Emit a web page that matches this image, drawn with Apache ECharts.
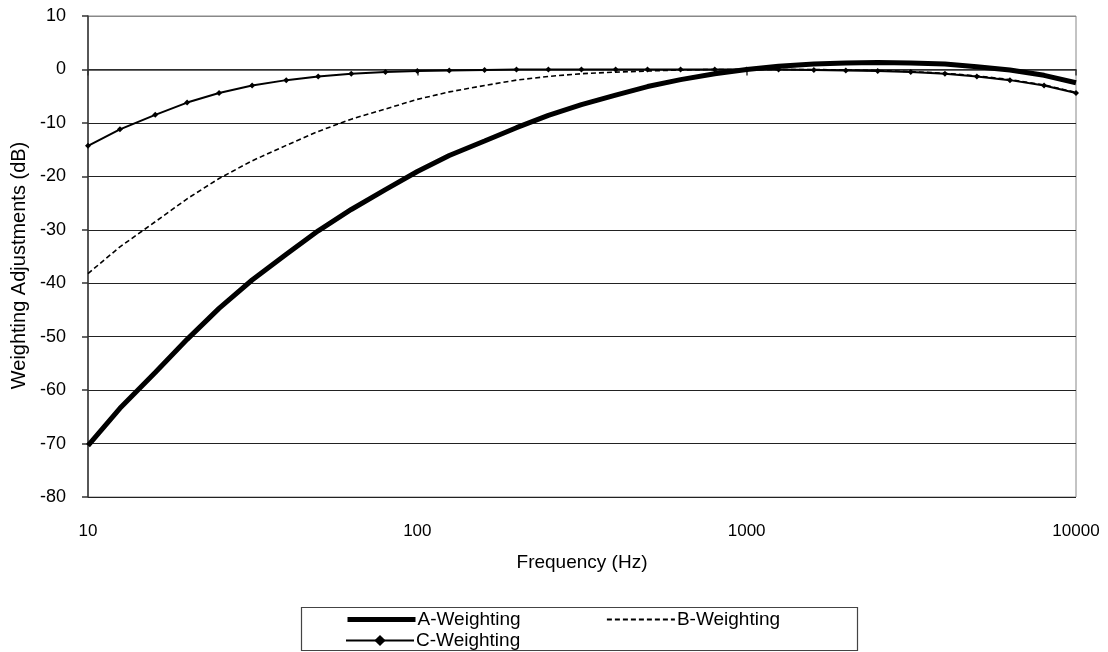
<!DOCTYPE html>
<html>
<head>
<meta charset="utf-8">
<script src="https://cdn.jsdelivr.net/npm/echarts@6/dist/echarts.min.js"></script>
<style>
  html, body { margin: 0; padding: 0; background: #fff; }
  #main { width: 1108px; height: 652px; }
</style>
</head>
<body>
<div id="main"></div>
<script>
// 1/3 octave band centre frequencies (Hz)
const freqs = [10, 12.5, 16, 20, 25, 31.5, 40, 50, 63, 80, 100, 125, 160, 200, 250, 315, 400, 500,
  630, 800, 1000, 1250, 1600, 2000, 2500, 3150, 4000, 5000, 6300, 8000, 10000];
const aWeight = [-70.4, -63.4, -56.7, -50.5, -44.7, -39.4, -34.6, -30.2, -26.2, -22.5, -19.1, -16.1,
  -13.4, -10.9, -8.6, -6.6, -4.8, -3.2, -1.9, -0.8, 0, 0.6, 1.0, 1.2, 1.3, 1.2, 1.0, 0.5, -0.1, -1.1, -2.5];
const bWeight = [-38.2, -33.2, -28.5, -24.2, -20.4, -17.1, -14.2, -11.6, -9.3, -7.4, -5.6, -4.2,
  -3.0, -2.0, -1.3, -0.8, -0.5, -0.3, -0.1, 0, 0, 0, 0, -0.1, -0.2, -0.4, -0.7, -1.2, -1.9, -2.9, -4.3];
const cWeight = [-14.3, -11.2, -8.5, -6.2, -4.4, -3.0, -2.0, -1.3, -0.8, -0.5, -0.3, -0.2,
  -0.1, 0, 0, 0, 0, 0, 0, 0, 0, 0, -0.1, -0.2, -0.3, -0.5, -0.8, -1.3, -2.0, -3.0, -4.4];
const xTicks = [10, 100, 1000, 10000];

const font = "'Liberation Sans', Arial, sans-serif";
const pairs = (ys) => freqs.map((f, i) => [f, ys[i]]);

const chart = echarts.init(document.getElementById("main"), null, { renderer: "canvas" });

const legendBase = {
  orient: "horizontal",
  itemWidth: 68,
  itemHeight: 14,
  padding: 0,
  itemGap: 4,
  textStyle: { fontFamily: font, fontSize: 19, color: "#000", padding: [0, 0, 0, -3] },
  selectedMode: false,
};

const option = {
  animation: false,
  grid: {
    left: 88, right: 32, top: 16, bottom: 155,
    show: true, borderColor: "#888", borderWidth: 1, backgroundColor: "transparent",
  },
  xAxis: {
    type: "log",
    logBase: 10,
    min: 10,
    max: 10000,
    name: "Frequency (Hz)",
    nameLocation: "middle",
    nameGap: 56,
    nameTextStyle: { fontFamily: font, fontSize: 19, color: "#000" },
    axisLine: { show: true, lineStyle: { color: "#333", width: 1.5 } },
    axisTick: { show: true, length: 6, lineStyle: { color: "#333", width: 1.5 } },
    axisLabel: {
      margin: 26, fontFamily: font, fontSize: 17, color: "#000",
      formatter: (v) => (xTicks.indexOf(Math.round(v)) !== -1 ? String(Math.round(v)) : ""),
    },
    splitLine: { show: false },
    minorTick: { show: false },
  },
  yAxis: {
    type: "value",
    min: -80,
    max: 10,
    interval: 10,
    name: "Weighting Adjustments (dB)",
    nameLocation: "middle",
    nameGap: 58,
    nameTextStyle: { fontFamily: font, fontSize: 20, color: "#000", padding: [0, 0, 0, -18] },
    axisLine: { show: true, lineStyle: { color: "#333", width: 1.5 } },
    axisTick: { show: true, length: 6, lineStyle: { color: "#333", width: 1.5 } },
    axisLabel: { margin: 22, fontFamily: font, fontSize: 18, color: "#000" },
    splitLine: {
      show: true,
      lineStyle: {
        color: ["#222", "#222", "#222", "#222", "#222", "#222", "#222", "#222", "#222", "#888"],
        width: 1,
      },
    },
  },
  legend: [
    Object.assign({}, legendBase, {
      data: ["A-Weighting"], left: 345, top: 610,
      itemStyle: { opacity: 0 }, lineStyle: { width: 5 },
    }),
    Object.assign({}, legendBase, {
      data: ["B-Weighting"], left: 606, top: 610,
      itemStyle: { opacity: 0 }, lineStyle: { width: 1.8 },
    }),
    Object.assign({}, legendBase, { data: ["C-Weighting"], left: 345, top: 631 }),
  ],
  graphic: [
    {
      type: "rect",
      shape: { x: 301.5, y: 607.5, width: 556, height: 43 },
      style: { fill: "transparent", stroke: "#444", lineWidth: 1.2 },
      silent: true,
    },
  ],
  series: [
    {
      name: "A-Weighting",
      type: "line",
      data: pairs(aWeight),
      showSymbol: false,
      symbol: "none",
      lineStyle: { color: "#000", width: 5 },
      itemStyle: { color: "#000" },
      z: 3,
    },
    {
      name: "B-Weighting",
      type: "line",
      data: pairs(bWeight),
      showSymbol: false,
      symbol: "none",
      lineStyle: { color: "#000", width: 1.6, type: [5, 3] },
      itemStyle: { color: "#000" },
      z: 3,
    },
    {
      name: "C-Weighting",
      type: "line",
      data: pairs(cWeight),
      symbol: "diamond",
      symbolSize: 6,
      showSymbol: true,
      lineStyle: { color: "#000", width: 2 },
      itemStyle: { color: "#000" },
      z: 4,
    },
  ],
};

chart.setOption(option);
</script>
</body>
</html>
